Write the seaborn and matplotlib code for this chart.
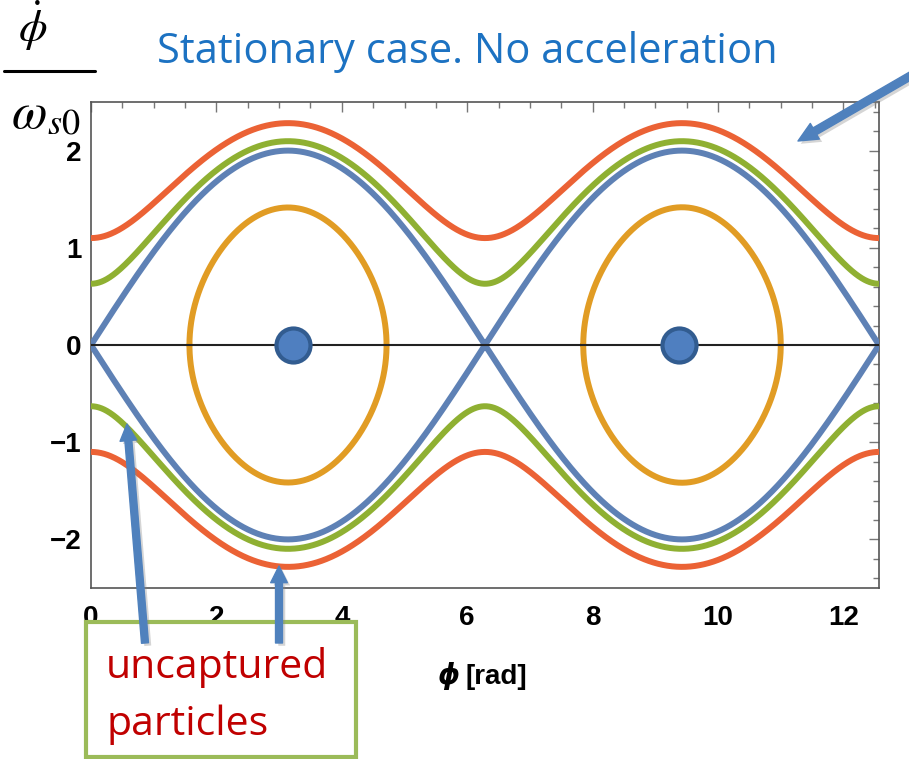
import numpy as np
import pandas as pd
import matplotlib
matplotlib.use("Agg")
import matplotlib.pyplot as plt
import seaborn as sns
from matplotlib.patches import Rectangle, FancyArrowPatch
from matplotlib.ticker import MultipleLocator
import matplotlib.patheffects as pe

# ---- data -------------------------------------------------------------
# Pendulum phase portrait: (phi_dot/omega_s0)^2 = 2 * (E - cos(phi))
# Passing trajectories, labelled by their rate where they cross phi = 0
passing_names = ["separatrix", "outer_1", "outer_2"]
rate_at_zero = [0.0, 0.63, 1.10]
passing_colors = ["#5E81B5", "#8FB032", "#EB6235"]

# Bounded orbits inside the buckets, labelled by their left turning phase
orbit_turn_phase = [1.57, 7.85]
orbit_color = "#E19C24"

# Stable fixed points (bucket centres)
fixed_phase = [3.22, 9.37]
fixed_rate = [0.0, 0.0]

phase_max = 4 * np.pi
x_ticks = [0, 2, 4, 6, 8, 10, 12]
y_ticks = [-2, -1, 0, 1, 2]

# ---- figure -----------------------------------------------------------
W, H = 909, 759
sns.set_theme(style="white")
plt.rcParams["font.family"] = ["Liberation Sans", "DejaVu Sans"]
plt.rcParams["mathtext.fontset"] = "stix"

fig = plt.figure(figsize=(W / 100, H / 100), dpi=100)
fig.patch.set_facecolor("white")


def px(x, y):
    """pixel position (from top-left) -> figure fraction"""
    return x / W, 1 - y / H


ax = fig.add_axes([91 / W, (H - 588) / H, 788 / W, 486 / H])
ax.set_facecolor("white")

lw = 4.3
phi = np.linspace(0, phase_max, 1200)
for name, v0, col in zip(passing_names, rate_at_zero, passing_colors):
    energy = v0 ** 2 / 2 + 1.0
    rate = np.sqrt(np.clip(2 * (energy - np.cos(phi)), 0, None))
    for sign in (1, -1):
        df = pd.DataFrame({"phase": phi, "rate": sign * rate})
        sns.lineplot(data=df, x="phase", y="rate", sort=False, estimator=None,
                     errorbar=None, color=col, linewidth=lw, ax=ax, zorder=3)

s = np.linspace(0, np.pi, 400)
for turn in orbit_turn_phase:
    energy = np.cos(turn)
    half = np.pi - (turn % (2 * np.pi))
    centre = turn + half
    ph = centre - half * np.cos(s)
    r = np.sqrt(np.clip(2 * (energy - np.cos(ph)), 0, None))
    loop = pd.DataFrame({"phase": np.concatenate([ph, ph[::-1]]),
                         "rate": np.concatenate([r, -r[::-1]])})
    sns.lineplot(data=loop, x="phase", y="rate", sort=False, estimator=None,
                 errorbar=None, color=orbit_color, linewidth=lw, ax=ax,
                 zorder=3)

ax.axhline(0, color="#222222", linewidth=1.5, zorder=4)

sns.scatterplot(x=fixed_phase, y=fixed_rate, s=600, color="#4F7FC0",
                edgecolor="#325C90", linewidth=3.0, ax=ax, zorder=5,
                legend=False)

ax.set_xlim(0, phase_max)
ax.set_ylim(-2.5, 2.5)
ax.set_xticks(x_ticks)
ax.set_yticks(y_ticks)
ax.set_xticklabels([str(t) for t in x_ticks])
ax.set_yticklabels(["\u22122", "\u22121", "0", "1", "2"])
ax.xaxis.set_minor_locator(MultipleLocator(0.5))
ax.yaxis.set_minor_locator(MultipleLocator(0.2))
ax.tick_params(which="both", direction="in", top=True, right=True,
               color="#777777", width=1.0, labelcolor="black")
ax.tick_params(which="major", length=7)
ax.tick_params(which="minor", length=4.5)
ax.tick_params(axis="x", which="major", pad=12, labelsize=20)
ax.tick_params(axis="y", which="major", pad=7, labelsize=20)
for lab in ax.get_xticklabels() + ax.get_yticklabels():
    lab.set_fontweight("bold")
for sp in ax.spines.values():
    sp.set_color("#555555")
    sp.set_linewidth(1.2)
ax.set_xlabel("")
ax.set_ylabel("")

# ---- axis labels ------------------------------------------------------
fig.text(*px(437, 684), "\u03d5", fontsize=20, fontweight="bold",
         style="italic", family="DejaVu Sans", ha="left", va="baseline",
         color="black")
fig.text(*px(466, 684), "[rad]", fontsize=20, fontweight="bold",
         ha="left", va="baseline", color="black")

fig.text(*px(33, 42), r"$\dot{\phi}$", fontsize=33, ha="center",
         va="baseline", color="black")
fig.add_artist(plt.Line2D([4 / W, 95 / W], [1 - 71 / H, 1 - 71 / H],
                          color="black", linewidth=2.2,
                          transform=fig.transFigure))
fig.text(*px(11, 128), r"$\omega$", fontsize=37, ha="left",
         va="baseline", color="black")
fig.text(*px(47, 134), r"$s\mathrm{0}$", fontsize=26, ha="left",
         va="baseline", color="black")

# ---- title ------------------------------------------------------------
fig.text(*px(467, 63), "Stationary case. No acceleration", fontsize=30,
         family="Open Sans", color="#1C72C2", ha="center", va="baseline")

# ---- annotation box ---------------------------------------------------
box = Rectangle(px(86, 757), 270 / W, 135 / H, transform=fig.transFigure,
                facecolor="white", edgecolor="#9BBB59", linewidth=3,
                zorder=10)
fig.add_artist(box)
fig.text(*px(106, 678), "uncaptured", fontsize=29.5, family="Open Sans",
         color="#C00000", ha="left", va="baseline", zorder=11)
fig.text(*px(106, 735), "particles", fontsize=29.5, family="Open Sans",
         color="#C00000", ha="left", va="baseline", zorder=11)

shadow = [pe.SimplePatchShadow(offset=(2, -2), shadow_rgbFace="#888888",
                               alpha=0.35), pe.Normal()]
arrows = [((145, 643), (127, 424), 5.0, 12, 12),
          ((279, 643), (279, 566), 5.0, 12, 12),
          ((912, 75), (798, 141), 5.5, 13, 14)]
for tail, tip, tw, hw, hl in arrows:
    arr = FancyArrowPatch(px(*tail), px(*tip), transform=fig.transFigure,
                          arrowstyle=f"simple,tail_width={tw},head_width={hw},head_length={hl}",
                          mutation_scale=1, color="#4F81BD", shrinkA=0,
                          shrinkB=0, zorder=12, path_effects=shadow)
    fig.add_artist(arr)

fig.savefig("out.png", dpi=100, facecolor="white")
